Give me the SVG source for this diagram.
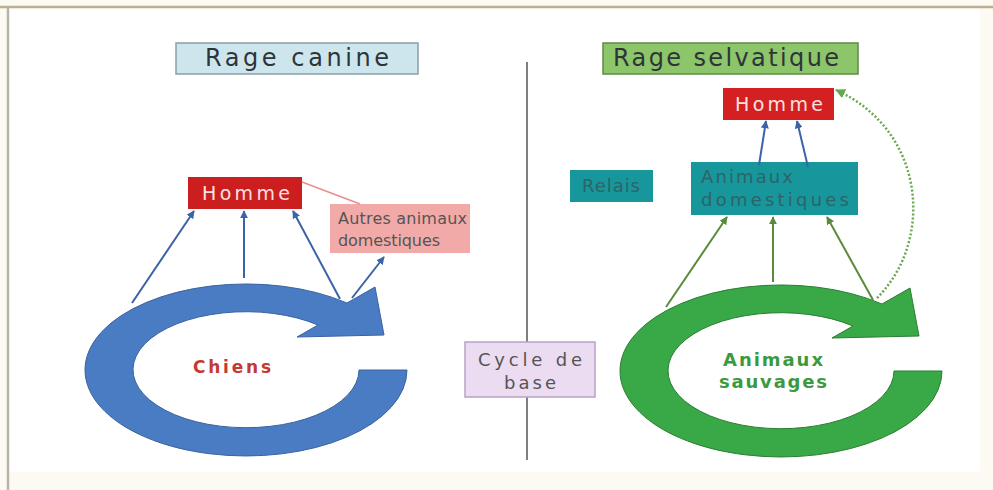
<svg xmlns="http://www.w3.org/2000/svg" width="993" height="490" viewBox="0 0 993 490">
<style>
text{font-family:"DejaVu Sans","Liberation Sans",sans-serif}
.title{font-size:24px;fill:#2e3538}
.lbl{font-size:18px}
.conn-blue{stroke:#3a63a8;stroke-width:2;fill:none}
.conn-green{stroke:#5a8a3a;stroke-width:2;fill:none}
</style>
<defs>
<marker id="ahB" viewBox="0 0 10 10" refX="9" refY="5" markerWidth="4" markerHeight="4" orient="auto"><path d="M0,0L10,5L0,10z" fill="#3a63a8"/></marker>
<marker id="ahG" viewBox="0 0 10 10" refX="9" refY="5" markerWidth="4" markerHeight="4" orient="auto"><path d="M0,0L10,5L0,10z" fill="#5a8a3a"/></marker>
<marker id="ahD" viewBox="0 0 10 10" refX="9" refY="5" markerWidth="4" markerHeight="4" orient="auto"><path d="M0,0L10,5L0,10z" fill="#6aa84f"/></marker>
<path id="cyc" d="M407,370 A161,86 0 1 1 347,303 L375,287 L384,335 L297,337 L318,325 A113,58 0 1 0 359,370 Z"/>
</defs>
<rect x="0" y="0" width="993" height="490" fill="#fdfaf3"/>
<rect x="8" y="7" width="972" height="465" fill="#ffffff"/>
<line x1="0" y1="7" x2="993" y2="7" stroke="#bcae90" stroke-width="2.5"/>
<line x1="8" y1="6" x2="8" y2="490" stroke="#b8b4a8" stroke-width="2.5"/>

<line x1="527" y1="62" x2="527" y2="342" stroke="#555" stroke-width="1.5"/>
<line x1="527" y1="397" x2="527" y2="460" stroke="#555" stroke-width="1.5"/>

<g id="title-canine">
<rect x="176" y="43" width="242" height="31" fill="#cde6ee" stroke="#8a9ea6" stroke-width="1.5"/>
<text class="title" x="297" y="66" text-anchor="middle" textLength="184" lengthAdjust="spacing">Rage canine</text>
</g>
<g id="title-selvatique">
<rect x="603" y="43" width="255" height="31" fill="#8cc56a" stroke="#5d8a44" stroke-width="1.5"/>
<text class="title" x="613" y="66" textLength="226" lengthAdjust="spacing" fill="#26361e">Rage selvatique</text>
</g>

<g id="cycle-chiens">
<use href="#cyc" fill="#4a7cc4" stroke="#3a62a0" stroke-width="1"/>
<text x="232" y="373" text-anchor="middle" font-size="17" font-weight="bold" fill="#c43a32" textLength="78" lengthAdjust="spacing">Chiens</text>
</g>

<g id="cycle-sauvages">
<use href="#cyc" transform="translate(535,1)" fill="#39a847" stroke="#2c7d33" stroke-width="1"/>
<text x="773" y="366" text-anchor="middle" font-size="18" font-weight="bold" fill="#3c9a3e" textLength="100" lengthAdjust="spacing">Animaux</text>
<text x="773" y="388" text-anchor="middle" font-size="18" font-weight="bold" fill="#3c9a3e" textLength="108" lengthAdjust="spacing">sauvages</text>
</g>

<g id="homme-left">
<rect x="188" y="177" width="114" height="32" fill="#cc1e1e"/>
<text x="246" y="200" font-size="19" text-anchor="middle" fill="#fbe0e0" textLength="88" lengthAdjust="spacing">Homme</text>
</g>

<g id="autres">
<rect x="330" y="204" width="140" height="49" fill="#f2aaa8"/>
<text x="338" y="224" font-size="16" fill="#555" textLength="129" lengthAdjust="spacing">Autres animaux</text>
<text x="338" y="246" font-size="16" fill="#555" textLength="102" lengthAdjust="spacing">domestiques</text>
</g>

<g id="cycle-base">
<rect x="465" y="342" width="130" height="55" fill="#ebdcf2" stroke="#b9a2c9" stroke-width="1.5"/>
<text x="530" y="366" text-anchor="middle" font-size="18" fill="#555" textLength="104" lengthAdjust="spacing">Cycle de</text>
<text x="530" y="389" text-anchor="middle" font-size="18" fill="#555" textLength="52" lengthAdjust="spacing">base</text>
</g>

<g id="homme-right">
<rect x="723" y="88" width="111" height="32" fill="#d42020"/>
<text x="779" y="111" font-size="19" text-anchor="middle" fill="#fbe0e0" textLength="88" lengthAdjust="spacing">Homme</text>
</g>

<g id="animaux-domestiques">
<rect x="691" y="162" width="167" height="53" fill="#17979c"/>
<text class="lbl" x="701" y="183" fill="#2d6468" textLength="92" lengthAdjust="spacing">Animaux</text>
<text class="lbl" x="701" y="206" fill="#2d6468" textLength="148" lengthAdjust="spacing">domestiques</text>
</g>

<g id="relais">
<rect x="570" y="170" width="83" height="32" fill="#17979c"/>
<text class="lbl" x="611" y="192" text-anchor="middle" fill="#2d6468" textLength="58" lengthAdjust="spacing">Relais</text>
</g>

<g id="connectors">
<line x1="302" y1="182" x2="360" y2="204" stroke="#e98e90" stroke-width="1.5"/>
<line class="conn-blue" x1="132" y1="303" x2="194" y2="211" marker-end="url(#ahB)"/>
<line class="conn-blue" x1="244" y1="278" x2="244" y2="211" marker-end="url(#ahB)"/>
<line class="conn-blue" x1="340" y1="299" x2="293" y2="211" marker-end="url(#ahB)"/>
<line class="conn-blue" x1="352" y1="298" x2="384" y2="257" marker-end="url(#ahB)"/>
<line class="conn-blue" x1="759" y1="165" x2="766" y2="121" marker-end="url(#ahB)"/>
<line class="conn-blue" x1="808" y1="167" x2="797" y2="121" marker-end="url(#ahB)"/>
<line class="conn-green" x1="666" y1="307" x2="727" y2="217" marker-end="url(#ahG)"/>
<line class="conn-green" x1="773" y1="282" x2="773" y2="217" marker-end="url(#ahG)"/>
<line class="conn-green" x1="873" y1="300" x2="827" y2="217" marker-end="url(#ahG)"/>
<path d="M877,298 C935,240 925,130 836,90" fill="none" stroke="#6aa84f" stroke-width="2.5" stroke-dasharray="2,2" marker-end="url(#ahD)"/>
</g>
</svg>
